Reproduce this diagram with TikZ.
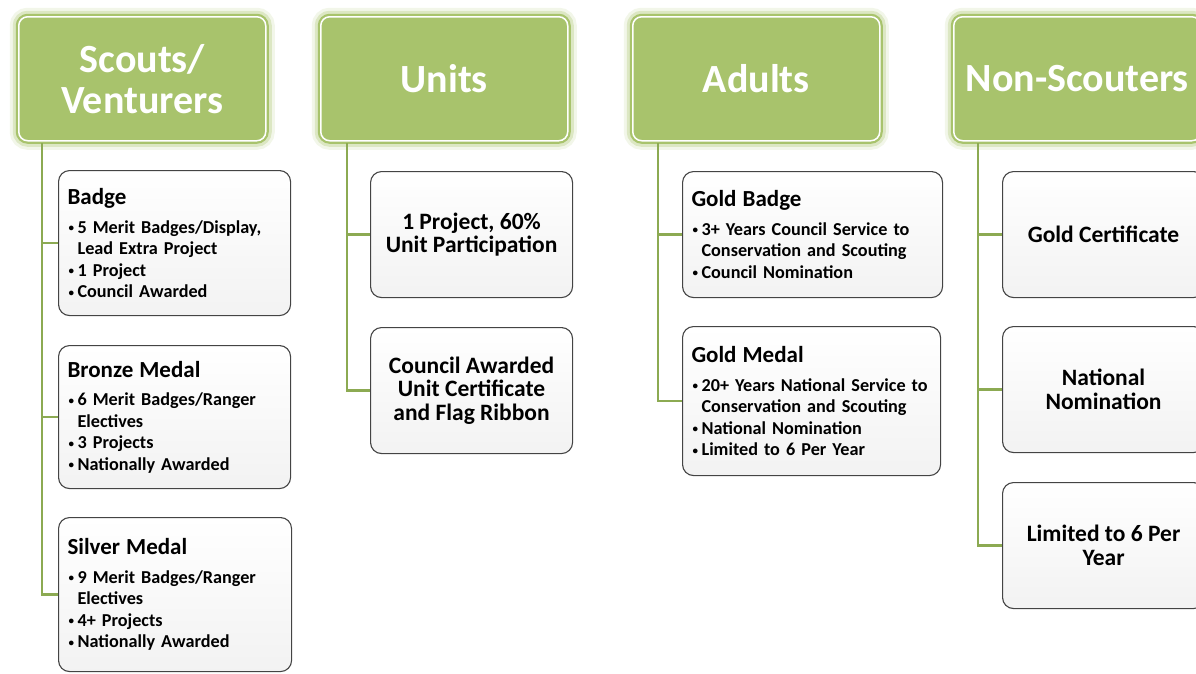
\documentclass[tikz,border=0pt]{standalone}
\usepackage{fontspec}
\setmainfont{Carlito}
\definecolor{hdrgreen}{RGB}{168,195,108}
\definecolor{linkgreen}{RGB}{140,170,82}
\definecolor{boxline}{RGB}{68,68,68}
\newcommand{\itm}{\par\hangindent=10pt\hangafter=1\noindent
  \makebox[10pt][l]{\hspace*{1pt}\raisebox{1.5pt}{\fontsize{11}{11}\selectfont\textbullet}}}
\newcommand{\boxhead}[1]{{\fontsize{23}{24}\selectfont #1}\par\vspace{7pt}}

\begin{document}
\begin{tikzpicture}[x=1pt, y=-1pt,
    header/.style={rectangle, rounded corners=9pt, fill=hdrgreen, draw=white, line width=1.5pt,
      preaction={draw=hdrgreen, line width=18pt, opacity=.15},
      preaction={draw=hdrgreen, line width=12pt, opacity=.3},
      preaction={draw=hdrgreen, line width=6pt},
      minimum width=247pt, minimum height=124pt, anchor=north west,
      text=white, align=center, font=\fontsize{40}{41}\selectfont\bfseries},
    itembox/.style={rectangle, rounded corners=11pt, draw=boxline, line width=1.1pt,
      top color=white, bottom color=black!5, anchor=north west, inner xsep=10pt},
    listbox/.style={itembox, align=left, inner xsep=8pt, inner ysep=4pt,
      font=\fontsize{18.2}{21.5}\selectfont\bfseries},
    tagbox/.style={itembox, align=center, minimum width=202pt, minimum height=126pt,
      font=\fontsize{23.5}{23.5}\selectfont\bfseries},
    link/.style={draw=linkgreen, line width=2.6pt}]
   \useasboundingbox (0,0) rectangle (1196,673);
   % column heads
   \node[header] (sv) at (18,16) {\rule{0pt}{4pt}Scouts/\\Venturers};
   \node[header] (un) at (320,16) {Units};
   \node[header] (ad) at (632,16) {Adults};
   \node[header] (ns) at (953,16) {Non-Scouters};
   % scouts / venturers
   \node[listbox, minimum width=232pt, minimum height=145pt, text width=214pt] (badge) at (58,170)
     {\boxhead{Badge}
      \itm 5 Merit Badges/Display,\newline Lead Extra Project
      \itm 1 Project
      \itm Council Awarded};
   \node[listbox, minimum width=232pt, minimum height=143pt, text width=214pt] (bronze) at (58,345)
     {\boxhead{Bronze Medal}
      \itm 6 Merit Badges/Ranger\newline Electives
      \itm 3 Projects
      \itm Nationally Awarded};
   \node[listbox, minimum width=233pt, minimum height=154pt, text width=215pt] (silver) at (58,517)
     {\boxhead{Silver Medal}
      \itm 9 Merit Badges/Ranger\newline Electives
      \itm 4+ Projects
      \itm Nationally Awarded};
   % units
   \node[tagbox] (proj) at (370,171) {1 Project, 60\%\\Unit Participation};
   \node[tagbox] (cert) at (370,327) {Council Awarded\\Unit Certificate\\and Flag Ribbon};
   % adults
   \node[listbox, minimum width=260pt, minimum height=126pt, text width=242pt] (gbadge) at (682,171)
     {\boxhead{Gold Badge}
      \itm 3+ Years Council Service to\newline Conservation and Scouting
      \itm Council Nomination};
   \node[listbox, minimum width=258pt, minimum height=149pt, text width=240pt] (gmedal) at (682,326)
     {\boxhead{Gold Medal}
      \itm 20+ Years National Service to\newline Conservation and Scouting
      \itm National Nomination
      \itm Limited to 6 Per Year};
   % non-scouters
   \node[tagbox] (gcert) at (1002,171) {Gold Certificate};
   \node[tagbox] (nomin) at (1002,326) {National\\Nomination};
   \node[tagbox] (limit) at (1002,482) {Limited to 6 Per\\Year};
   % connectors
   \coordinate (svroot) at (42,143);
   \coordinate (unroot) at (347,143);
   \coordinate (adroot) at (658,143);
   \coordinate (nsroot) at (978,143);
   \draw[link] (svroot) |- (badge.west) (svroot) |- (bronze.west) (svroot) |- (silver.west);
   \draw[link] (unroot) |- (proj.west) (unroot) |- (cert.west);
   \draw[link] (adroot) |- (gbadge.west) (adroot) |- (gmedal.west);
   \draw[link] (nsroot) |- (gcert.west) (nsroot) |- (nomin.west) (nsroot) |- (limit.west);
\end{tikzpicture}
\end{document}
